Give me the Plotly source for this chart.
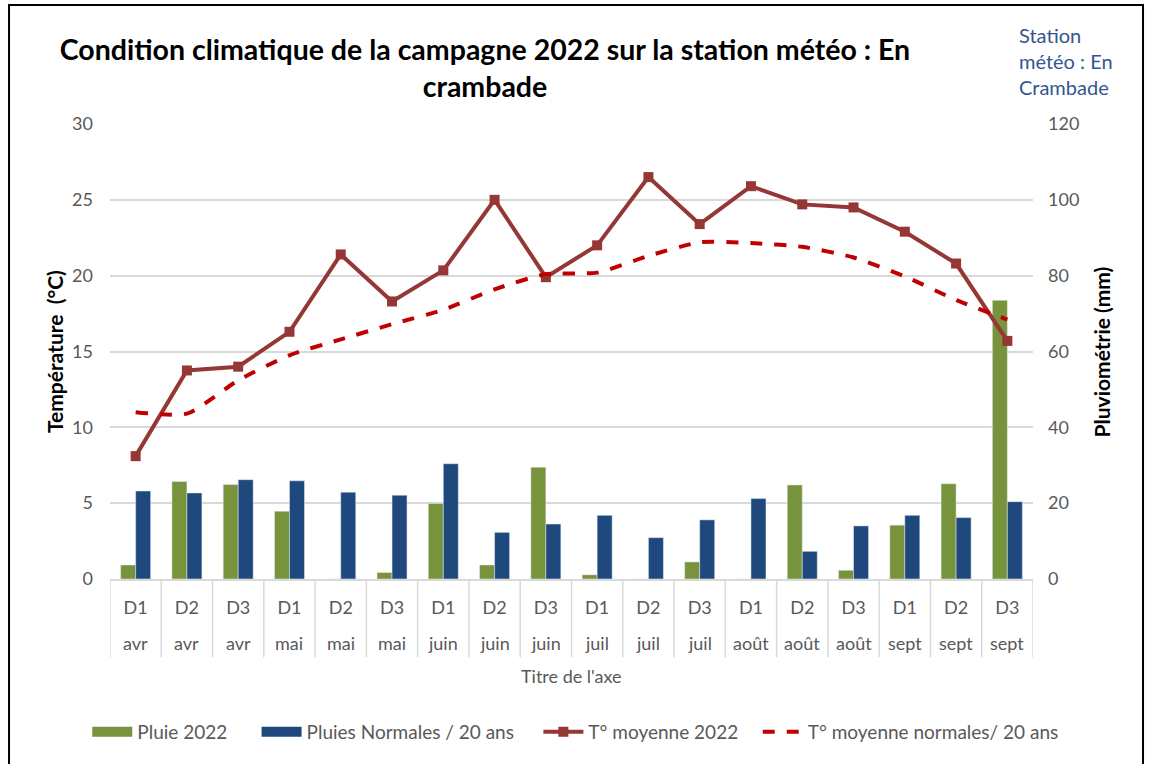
import plotly.graph_objects as go

decades = ["D1","D2","D3"]*6
months = ["avr"]*3 + ["mai"]*3 + ["juin"]*3 + ["juil"]*3 + ["août"]*3 + ["sept"]*3
pluie_2022 = [3.7, 25.7, 24.9, 17.9, 0.0, 1.7, 19.9, 3.7, 29.5, 1.1, 0.0, 4.5, 0.0, 24.8, 2.3, 14.2, 25.1, 73.5]
pluie_normale = [23.2, 22.7, 26.2, 25.9, 22.9, 22.1, 30.4, 12.3, 14.5, 16.8, 10.9, 15.6, 21.2, 7.3, 14.0, 16.8, 16.2, 20.4]
temp_2022 = [8.1, 13.75, 14.0, 16.3, 21.4, 18.3, 20.35, 25.0, 19.9, 22.0, 26.5, 23.4, 25.9, 24.7, 24.5, 22.9, 20.8, 15.7]
temp_normale = [11.0, 10.9, 13.1, 14.75, 15.8, 16.8, 17.75, 19.1, 20.1, 20.2, 21.3, 22.2, 22.15, 21.9, 21.2, 19.95, 18.4, 17.1]

idx = list(range(len(decades)))
FONT = "Lato"
GRAY = "#595959"
GREEN = "#77933c"
BLUE = "#1f497d"
NB = "\u00a0"

fig = go.Figure()
fig.add_trace(go.Bar(x=idx, y=pluie_2022, name="Pluie 2022", marker_color=GREEN, yaxis="y",
                     showlegend=False, legendgroup="p22"))
fig.add_trace(go.Bar(x=idx, y=pluie_normale, name="Pluies Normales / 20 ans", marker_color=BLUE, yaxis="y",
                     showlegend=False, legendgroup="pn"))
# legend keys drawn as wide rectangles (like the original)
fig.add_trace(go.Scatter(x=[None], y=[None], mode="lines", name="Pluie 2022" + NB * 5, legendgroup="p22",
                         line=dict(color=GREEN, width=12), yaxis="y"))
fig.add_trace(go.Scatter(x=[None], y=[None], mode="lines", name="Pluies Normales / 20 ans" + NB * 4, legendgroup="pn",
                         line=dict(color=BLUE, width=12), yaxis="y"))
fig.add_trace(go.Scatter(x=idx, y=temp_2022, name="T° moyenne 2022" + NB * 3, mode="lines+markers",
                         line=dict(color="#953735", width=4), marker=dict(symbol="square", size=10, color="#953735"),
                         yaxis="y2"))
fig.add_trace(go.Scatter(x=idx, y=temp_normale, name="T° moyenne normales/ 20 ans", mode="lines",
                         line=dict(color="#c00000", width=4, dash="dash", shape="spline", smoothing=0.6),
                         yaxis="y2"))

shapes = []
for i in range(len(idx) + 1):
    shapes.append(dict(type="line", xref="x", yref="paper", x0=i - 0.5, x1=i - 0.5, y0=0, y1=-0.172,
                       line=dict(color="#d9d9d9", width=1.5)))
shapes.append(dict(type="rect", xref="paper", yref="paper", x0=-0.1094, x1=1.1192, y0=-0.43, y1=1.2615,
                   line=dict(color="black", width=2)))

annotations = []
for i, m in zip(idx, months):
    annotations.append(dict(x=i, y=-0.141, xref="x", yref="paper", text=m, showarrow=False,
                            font=dict(family=FONT, size=18, color=GRAY), yanchor="middle"))
annotations.append(dict(x=0.5, y=-0.213, xref="paper", yref="paper", text="Titre de l'axe", showarrow=False,
                        font=dict(family=FONT, size=18, color=GRAY), yanchor="middle"))
annotations.append(dict(x=0.983, xanchor="left", y=1.139, xref="paper", yref="paper", yanchor="middle",
                        text="Station<br>météo : En<br>Crambade", showarrow=False, align="left",
                        font=dict(family=FONT, size=20, color="#35558f")))
annotations.append(dict(x=-0.06, xanchor="center", y=0.5, xref="paper", yref="paper", yanchor="middle",
                        text="Température  (°C)", textangle=-90,
                        showarrow=False, font=dict(family=FONT, size=21, color="black", weight="bold")))
annotations.append(dict(x=1.0747, xanchor="center", y=0.5, xref="paper", yref="paper", yanchor="middle",
                        text="Pluviométrie (mm)", textangle=-90,
                        showarrow=False, font=dict(family=FONT, size=21, color="black", weight="bold")))

fig.update_layout(
    width=1152, height=764,
    margin=dict(l=110, r=119, t=124, b=185, autoexpand=False),
    paper_bgcolor="white", plot_bgcolor="white",
    barmode="group", bargap=0.415, bargroupgap=0,
    title=dict(text="Condition climatique de la campagne 2022 sur la station météo : En<br>crambade",
               x=0.421, xanchor="center", xref="container", y=0.921, yanchor="top", yref="container",
               font=dict(family=FONT, size=28.5, color="black", weight="bold")),
    xaxis=dict(type="linear", range=[-0.5, 17.5], tickmode="array", tickvals=idx, ticktext=decades,
               ticks="outside", ticklen=12, tickcolor="rgba(0,0,0,0)",
               tickfont=dict(family=FONT, size=18, color=GRAY), showgrid=False, zeroline=False,
               showline=True, linecolor="#d9d9d9", linewidth=1.5),
    yaxis=dict(side="right", range=[0, 120], tickvals=[0, 20, 40, 60, 80, 100, 120], showgrid=True,
               gridcolor="#d9d9d9", gridwidth=1.5, zeroline=False, ticks="", ticklabelstandoff=14,
               tickfont=dict(family=FONT, size=18, color=GRAY)),
    yaxis2=dict(side="left", overlaying="y", range=[0, 30], tickvals=[0, 5, 10, 15, 20, 25, 30], showgrid=False,
                zeroline=False, ticks="", ticklabelstandoff=16, tickfont=dict(family=FONT, size=18, color=GRAY)),
    legend=dict(orientation="h", xref="paper", yref="paper", x=-0.0246, xanchor="left",
                y=-0.336, yanchor="middle",
                font=dict(family=FONT, size=19, color=GRAY), itemwidth=40, traceorder="normal"),
    shapes=shapes, annotations=annotations,
)

fig.write_html("out.html", config={"displayModeBar": False},
               post_script="document.body.style.margin='0';document.body.style.padding='0';")
